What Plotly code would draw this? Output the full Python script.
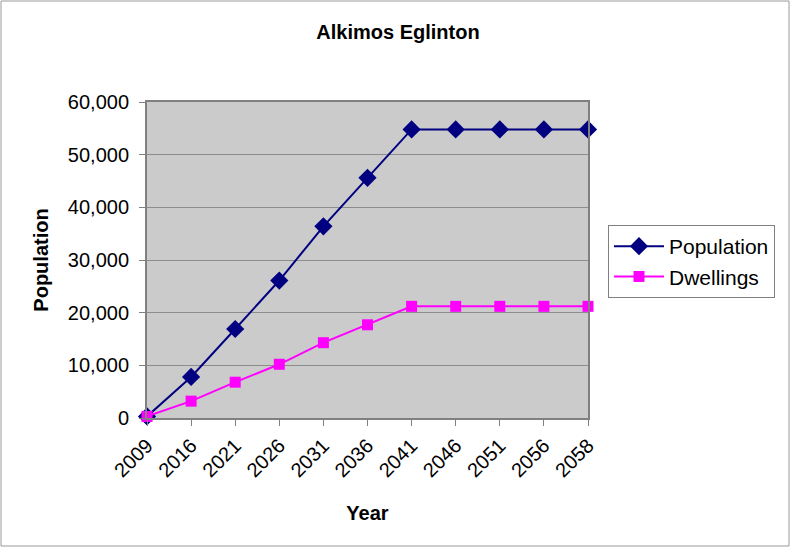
import plotly.graph_objects as go

years = ["2009", "2016", "2021", "2026", "2031", "2036", "2041", "2046", "2051", "2056", "2058"]
population = [300, 7800, 16900, 26100, 36400, 45600, 54800, 54800, 54800, 54800, 54800]
dwellings = [300, 3200, 6800, 10200, 14300, 17700, 21200, 21200, 21200, 21200, 21200]

W, H = 792, 549
L, R, T, B = 147, 204, 102, 131
pw, ph = W - L - R, H - T - B

font_family = "Liberation Sans, Arial, sans-serif"

fig = go.Figure()
fig.add_trace(go.Scatter(
    x=years, y=population, name="Population", mode="lines+markers",
    line=dict(color="#000080", width=2),
    marker=dict(symbol="diamond", size=14, color="#000080"),
    cliponaxis=False,
))
fig.add_trace(go.Scatter(
    x=years, y=dwellings, name="Dwellings", mode="lines+markers",
    line=dict(color="#FF00FF", width=2),
    marker=dict(symbol="square", size=11, color="#FF00FF"),
    cliponaxis=False,
))

# outer chart border, expressed in paper coordinates
fig.add_shape(
    type="rect", xref="paper", yref="paper",
    x0=(1 - L) / pw, x1=(W - 3 - L) / pw,
    y0=-(H - 3 - T - ph) / ph, y1=1 + (T - 1) / ph,
    line=dict(color="#9a9a9a", width=1), fillcolor="rgba(0,0,0,0)", layer="below",
)

fig.update_layout(
    width=W, height=H,
    margin=dict(l=L, r=R, t=T, b=B),
    paper_bgcolor="white",
    plot_bgcolor="#CBCBCB",
    font=dict(family=font_family, color="black", size=20),
    title=dict(text="<b>Alkimos Eglinton</b>", x=398 / W, xanchor="center",
               y=1 - 32 / H, yanchor="middle", font=dict(size=20)),
    xaxis=dict(
        type="category", range=[0, 10],
        showgrid=False, ticks="outside", ticklen=6, tickcolor="#808080",
        tickangle=-45, showline=True, linecolor="#808080", linewidth=2, mirror=True,
        title=dict(text="<b>Year</b>", font=dict(size=20), standoff=26),
        tickfont=dict(size=20),
    ),
    yaxis=dict(
        range=[0, 60000], dtick=10000, tickformat=",",
        showgrid=True, gridcolor="#8c8c8c", gridwidth=1,
        ticks="outside", ticklen=6, tickcolor="#808080",
        showline=True, linecolor="#808080", linewidth=2, mirror=True,
        zeroline=False, ticklabelstandoff=6,
        title=dict(text="<b>Population</b>", font=dict(size=20), standoff=14),
        tickfont=dict(size=20),
    ),
    legend=dict(
        x=(608 - L) / pw, xanchor="left",
        y=(H - B - 225) / ph, yanchor="top",
        bordercolor="#808080", borderwidth=1, bgcolor="white",
        font=dict(size=21), itemwidth=50, tracegroupgap=4,
    ),
    showlegend=True,
)

fig.write_html("out.html")
